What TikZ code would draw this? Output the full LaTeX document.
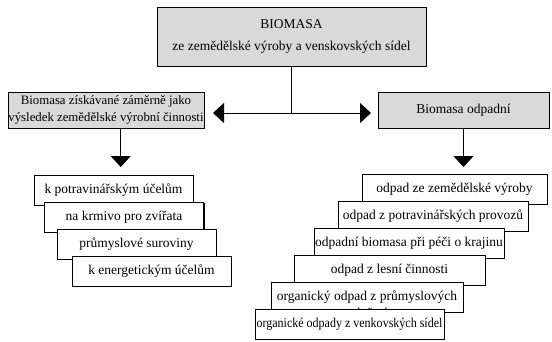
\documentclass[tikz,border=0pt]{standalone}
\usepackage{fontspec}
\usepackage{graphicx}
\setmainfont{Liberation Serif}
\usetikzlibrary{arrows.meta,shadows}
\definecolor{boxgray}{RGB}{217,217,217}
\begin{document}
\begin{tikzpicture}[x=1pt,y=-1pt,
  base/.style={draw=black, line width=0.8pt, inner sep=0pt, align=center,
    font=\fontsize{13.5}{16}\selectfont,
    drop shadow={shadow xshift=1pt, shadow yshift=-1pt, opacity=1, fill=black}},
  graybox/.style={base, fill=boxgray},
  lbox/.style={base, fill=white, minimum height=30pt, minimum width=159pt},
  rbox/.style={base, fill=white, minimum height=30pt},
  conn/.style={line width=0.8pt},
  arr/.style={conn, -{Triangle[length=11pt,width=20pt]}}
]
\useasboundingbox (0,0) rectangle (552,341);

% main boxes
\node[graybox, minimum width=269pt, minimum height=59pt] (top) at (291.5,36.5)
  {BIOMASA\\[6pt]ze zemědělské výroby a venskovských sídel};
\node[graybox, minimum width=196pt, minimum height=35.5pt,
      font=\fontsize{12.8}{17}\selectfont] (left) at (106,110.3)
  {Biomasa získávané záměrně jako\\výsledek zemědělské výrobní činnosti};
\node[graybox, minimum width=171pt, minimum height=36pt] (right) at (463.5,110)
  {Biomasa odpadní};

% connectors
\coordinate (j) at (291.5,113);
\coordinate (lt) at (213,113);
\coordinate (rt) at (371,113);
\coordinate (ld) at (120.7,167);
\coordinate (rd) at (463.5,167);
\draw[conn] (top.south) -- (j);
\draw[arr] (j) -- (lt);
\draw[arr] (j) -- (rt);
\draw[arr] (left.south -| ld) -- (ld);
\draw[arr] (right.south) -- (rd);

% left stack
\node[lbox] (l1) at (113.5,190) {k potravinářským účelům};
\node[lbox] (l2) at (124,217) {na krmivo pro zvířata};
\node[lbox] (l3) at (136.5,244) {průmyslové suroviny};
\node[lbox] (l4) at (151.5,271) {k energetickým účelům};

% right stack
\node[rbox, minimum width=185pt] (r1) at (454.5,189) {odpad ze zemědělské výroby};
\node[rbox, minimum width=190pt] (r2) at (433,216) {odpad z potravinářských provozů};
\node[rbox, minimum width=190pt] (r3) at (409,243) {odpadní biomasa při péči o krajinu};
\node[rbox, minimum width=191pt] (r4) at (389.5,270) {odpad z lesní činnosti};
\node[rbox, minimum width=192pt] (r5) at (367,297) {organický odpad z průmyslových};
\node[font=\fontsize{13.5}{16}\selectfont, inner sep=0pt] (r5b) at (367,313) {odvětví};
\node[rbox, minimum width=189pt] (r6) at (349.5,324)
  {\scalebox{0.89}[1]{organické odpady z venkovských sídel}};
\end{tikzpicture}
\end{document}
